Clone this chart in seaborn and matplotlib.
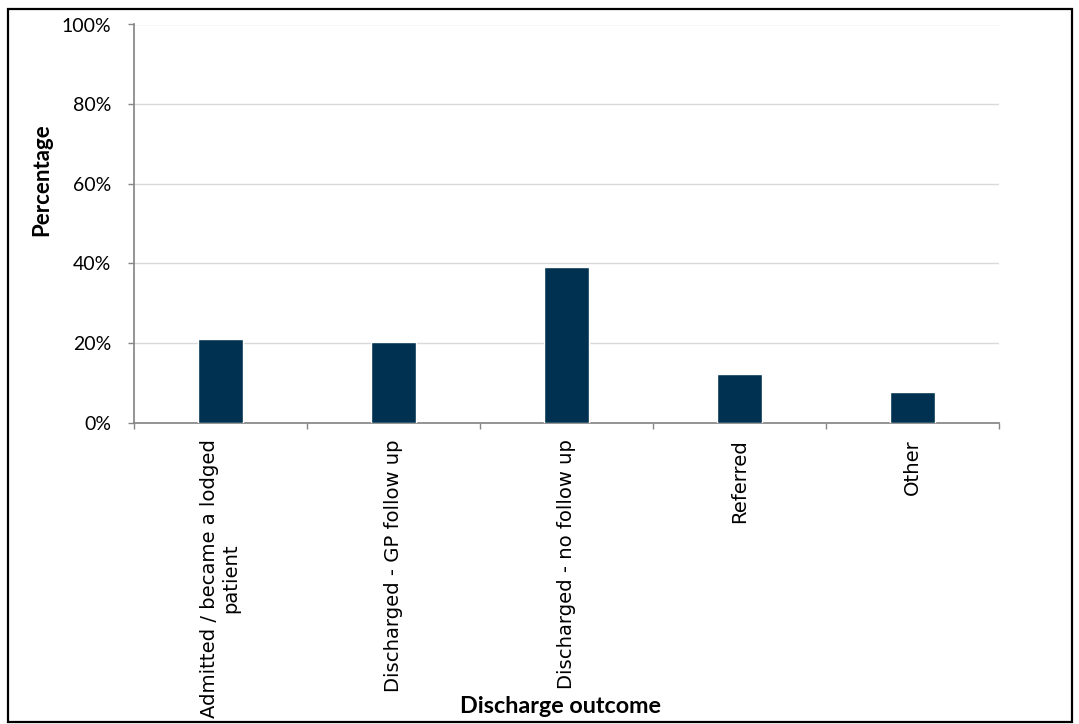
import matplotlib
matplotlib.use("Agg")
import matplotlib.pyplot as plt
import matplotlib.patches as mpatches
from matplotlib.ticker import FixedLocator, PercentFormatter
import seaborn as sns
import pandas as pd

categories = [
    "Admitted / became a lodged\npatient",
    "Discharged - GP follow up",
    "Discharged - no follow up",
    "Referred",
    "Other",
]
percentages = [21.0, 20.2, 39.1, 12.1, 7.7]
y_ticks = [0, 20, 40, 60, 80, 100]

sns.set_theme(style="white")
plt.rcParams["font.family"] = ["Lato", "DejaVu Sans"]

W, H = 1079, 724
df = pd.DataFrame({"outcome": categories, "pct": percentages})

fig = plt.figure(figsize=(W / 100, H / 100), dpi=100)
left, right, top, bottom = 133.5, 999.0, 24.5, 422.5
ax = fig.add_axes([left / W, 1 - bottom / H, (right - left) / W, (bottom - top) / H])

sns.barplot(data=df, x="outcome", y="pct", color="#003150", width=0.26,
            saturation=1, ax=ax, zorder=3)

ax.set_ylim(0, 100)
ax.set_xlim(-0.5, len(categories) - 0.5)
ax.yaxis.set_major_locator(FixedLocator(y_ticks))
ax.yaxis.set_major_formatter(PercentFormatter(decimals=0))
ax.grid(axis="y", color="#d9d9d9", linewidth=1, zorder=0)

# x ticks sit on the category boundaries
ax.set_xticks([i + 0.5 for i in range(-1, len(categories))], minor=True)
ax.tick_params(axis="x", which="major", length=0, pad=12)
ax.tick_params(axis="x", which="minor", length=4.5, width=1, color="#868686",
               direction="out", bottom=True)
ax.tick_params(axis="y", length=4, width=1, color="#868686", direction="out",
               left=True, labelsize=14, pad=12, labelcolor="black")
ax.set_xticklabels(categories, rotation=90, fontsize=14.1, ha="center",
                   va="top", multialignment="center", family="DejaVu Sans",
                   color="black")

for side in ("top", "right"):
    ax.spines[side].set_visible(False)
ax.spines["left"].set_color("#868686")
ax.spines["bottom"].set_color("#868686")

ax.set_xlabel("Discharge outcome", fontsize=16.8, fontweight="bold",
              va="center", color="black")
ax.xaxis.set_label_coords((561 - left) / (right - left), (bottom - 706) / (bottom - top))
ax.set_ylabel("Percentage", fontsize=16, fontweight="bold", va="center",
              ha="center", color="black")
ax.yaxis.set_label_coords((42 - left) / (right - left), (bottom - 180) / (bottom - top))

fig.add_artist(mpatches.Rectangle((8 / W, 1 - 722 / H), 1064 / W, 713 / H,
                                  transform=fig.transFigure, fill=False,
                                  edgecolor="black", linewidth=1.6))

fig.savefig("out.png", dpi=100)
